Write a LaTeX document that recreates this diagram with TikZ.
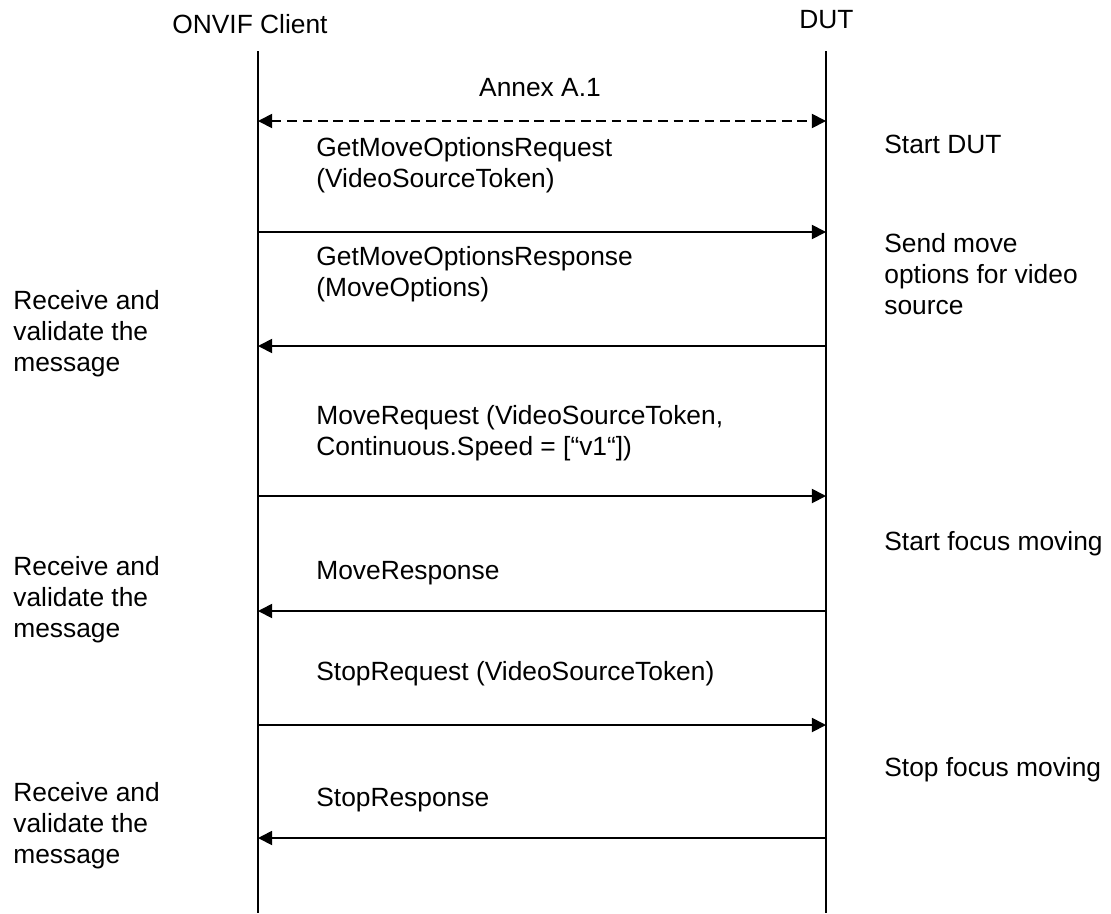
\documentclass[tikz,border=0pt]{standalone}
\usepackage{fontspec}
\setmainfont{Liberation Sans}
\usetikzlibrary{arrows.meta}

\begin{document}
\begin{tikzpicture}[x=0.02cm,y=-0.02cm,
  life/.style={line width=1pt},
  msg/.style={line width=1pt,-{Triangle[length=8pt,width=8pt]}},
  txt/.style={anchor=base west,inner sep=0pt,align=left,
    font=\fontsize{15}{17.4}\selectfont}]
  \useasboundingbox (0,0) rectangle (1111,913);
  % life lines
  \coordinate (ctop) at (258,51);
  \coordinate (cbot) at (258,913);
  \coordinate (dtop) at (826,51);
  \coordinate (dbot) at (826,913);
  \draw[life] (ctop) -- (cbot);
  \draw[life] (dtop) -- (dbot);
  \foreach \i/\y in {1/121,2/232,3/346,4/496,5/611,6/725,7/838}{
    \coordinate (c\i) at (258,\y);
    \coordinate (d\i) at (826,\y);
  }
  % messages
  \draw[msg,{Triangle[length=8pt,width=8pt]}-{Triangle[length=8pt,width=8pt]},
    dash pattern=on 5.5pt off 3.3pt] (c1) -- (d1);
  \draw[msg] (c2) -- (d2);
  \draw[msg] (d3) -- (c3);
  \draw[msg] (c4) -- (d4);
  \draw[msg] (d5) -- (c5);
  \draw[msg] (c6) -- (d6);
  \draw[msg] (d7) -- (c7);
  % headings
  \node[txt] (client) at (172,33) {ONVIF Client};
  \node[txt] (dut) at (799,28) {DUT};
  % message labels (base = last line)
  \node[txt,anchor=base] (annex) at (540,96) {Annex A.1};
  \node[txt] (m1) at (316,187) {GetMoveOptionsRequest\\(VideoSourceToken)};
  \node[txt] (m2) at (316,296) {GetMoveOptionsResponse\\(MoveOptions)};
  \node[txt] (m3) at (316,455) {MoveRequest (VideoSourceToken,\\Continuous.Speed = [“v1“])};
  \node[txt] (m4) at (316,579) {MoveResponse};
  \node[txt] (m5) at (316,680) {StopRequest (VideoSourceToken)};
  \node[txt] (m6) at (316,806) {StopResponse};
  % DUT side
  \node[txt] (a1) at (884,153) {Start DUT};
  \node[txt] (a2) at (884,314) {Send move\\options for video\\source};
  \node[txt] (a3) at (884,550) {Start focus moving};
  \node[txt] (a4) at (884,776) {Stop focus moving};
  % client side
  \foreach \i/\y in {1/371,2/637,3/863}
    \node[txt] (r\i) at (13,\y) {Receive and\\validate the\\message};
\end{tikzpicture}
\end{document}
